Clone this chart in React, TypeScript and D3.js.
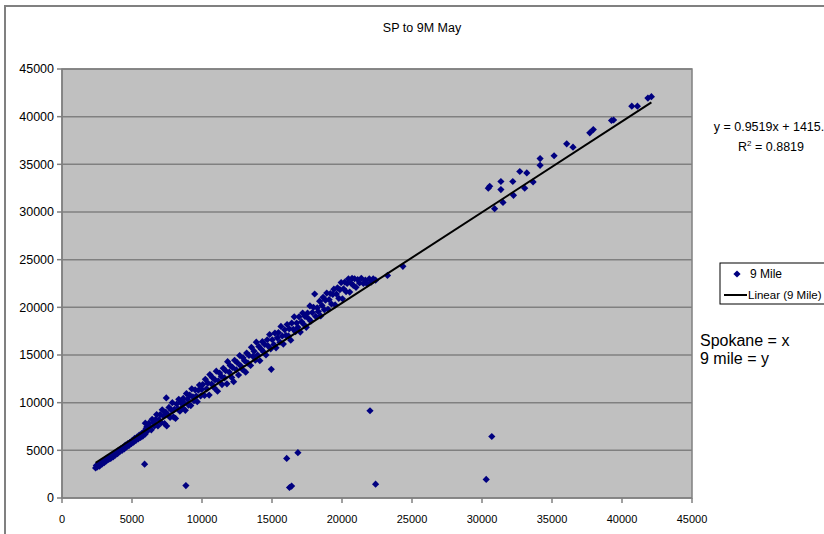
import React from "react";
import * as d3 from "d3";

const title = "SP to 9M May";
const xTicks = [0, 5000, 10000, 15000, 20000, 25000, 30000, 35000, 40000, 45000];
const yTicks = [0, 5000, 10000, 15000, 20000, 25000, 30000, 35000, 40000, 45000];
const slope = 0.9519;
const intercept = 1415;
const equationText = "y = 0.9519x + 1415.";
const r2Value = "0.8819";
const seriesName = "9 Mile";
const trendName = "Linear (9 Mile)";
const noteLines = ["Spokane = x", "9 mile = y"];

// Spokane (x) vs 9 Mile (y)
const low: [number, number][] = [
  [2400, 3150], [2450, 3400], [2520, 3250], [2600, 3550], [2680, 3350], [2760, 3700], [2850, 3550],
  [2930, 3850], [3010, 3700], [3080, 4050], [3170, 3900], [3240, 4200], [3330, 4050], [3410, 4350],
  [3480, 4150], [3560, 4500], [3650, 4300], [3720, 4650], [3800, 4500], [3880, 4800], [3960, 4650],
  [4040, 5000], [4120, 4850], [4200, 5150], [4290, 5000], [4370, 5300], [4450, 5150], [4530, 5550],
  [4610, 5350], [4700, 5700], [4780, 5500], [4860, 5850], [4950, 5700], [5030, 6050], [5110, 5850],
  [5190, 6250], [5280, 6050], [5360, 6400], [5440, 6200], [5520, 6600], [5610, 6350], [5690, 6750],
  [5770, 6500], [5850, 6950], [5930, 6700], [5950, 7850], [6000, 7250],
];
const midLow: [number, number][] = [
  [6050, 7450], [6120, 7050], [6210, 7850], [6290, 7500], [6380, 7150], [6440, 8250], [6530, 7900],
  [6610, 7550], [6700, 8250], [6760, 8750], [6850, 7550], [6930, 8200], [7010, 8750], [7090, 7900],
  [7160, 9250], [7240, 8600], [7330, 7800], [7410, 9000], [7480, 7550], [7560, 8750], [7640, 9500],
  [7720, 8450], [7800, 9250], [7880, 10000], [7960, 8500], [8030, 9300], [8110, 8350], [8190, 9850],
  [8270, 9350], [8340, 10350], [8420, 9100], [8500, 10000], [8580, 9500], [8660, 10450], [8730, 9950],
  [8810, 9200], [8890, 10950], [8970, 10350], [9040, 9750], [9120, 10800], [9200, 9700], [9270, 11450],
  [9350, 10600], [9430, 10200], [9510, 11350], [9590, 10700], [9660, 10100], [9740, 11300], [9820, 11850],
  [9900, 10700], [9980, 11400],
];
const mid: [number, number][] = [
  [10050, 11900], [10180, 10750], [10240, 12450], [10330, 11450], [10420, 12050], [10510, 10800],
  [10560, 12950], [10690, 11950], [10740, 12650], [10880, 11550], [10930, 12400], [11020, 13300],
  [11110, 11200], [11170, 12300], [11260, 13100], [11390, 12750], [11430, 11900], [11520, 13600],
  [11610, 12600], [11690, 13350], [11780, 11980], [11830, 14300], [11950, 13200], [12010, 13900],
  [12120, 12650], [12180, 13700], [12260, 12200], [12330, 14450], [12450, 13450], [12520, 14200],
  [12610, 12900], [12690, 14950], [12770, 13850], [12880, 13500], [12930, 14700], [13040, 14400],
  [13120, 13200], [13190, 15200], [13280, 14150], [13360, 14950], [13470, 13900], [13530, 15800],
  [13640, 14850], [13720, 15400], [13810, 14450], [13880, 16350], [13970, 15000], [14060, 15900],
  [14130, 14400], [14240, 15600], [14310, 16400], [14420, 15300], [14480, 16100], [14570, 15000],
  [14660, 16600], [14720, 15950], [14830, 17150], [14910, 15650], [14950, 13500],
];
const high: [number, number][] = [
  [15020, 16600], [15130, 16100], [15210, 17300], [15290, 15750], [15380, 16800], [15460, 17350],
  [15570, 16350], [15640, 18000], [15730, 17000], [15810, 16150], [15900, 17650], [15990, 17050],
  [16080, 18200], [16170, 17000], [16230, 17750], [16340, 16550], [16410, 18350], [16520, 17700],
  [16590, 19000], [16680, 17450], [16760, 18350], [16850, 17900], [16930, 19000], [17020, 17400],
  [17110, 18500], [17190, 19400], [17280, 18200], [17360, 19050], [17450, 17900], [17540, 19400],
  [17620, 18800], [17710, 20150], [17780, 18550], [17880, 19450], [17960, 20000], [18050, 21400],
  [18120, 19050], [18230, 19950], [18310, 19550], [18400, 20650], [18480, 19100], [18570, 20200],
  [18650, 21050], [18740, 19750], [18820, 20750], [18910, 21500], [19000, 19800], [19080, 20800],
  [19170, 21450], [19250, 20350], [19340, 21350], [19420, 21900], [19510, 20250], [19600, 21400],
  [19680, 22050], [19770, 20950], [19850, 21850], [19940, 22600], [20030, 20900], [20110, 21950],
  [20200, 22650], [20290, 21650], [20370, 22500], [20460, 23000], [20550, 21600], [20630, 22550],
  [20720, 23050], [20810, 22300], [20900, 23000], [21000, 22100], [21120, 22900], [21250, 22550],
  [21380, 23050], [21530, 22500], [21670, 22850], [21800, 22450], [21950, 23000], [22080, 22650],
  [22230, 23000], [22400, 22850], [23250, 23350], [24350, 24300],
];
const top: [number, number][] = [
  [30450, 32500], [30550, 32700], [30900, 30350], [31350, 33200], [31350, 32350], [31500, 31000],
  [32200, 33200], [32250, 31750], [32700, 34250], [33050, 32500], [33200, 34100], [33650, 33150],
  [34150, 35600], [34150, 34900], [35150, 35900], [36050, 37150], [36500, 36800], [37700, 38300],
  [37950, 38650], [39250, 39600], [39400, 39650], [40700, 41100], [41100, 41100], [41850, 41950],
  [42100, 42100],
];
const outliers: [number, number][] = [
  [5900, 3550], [8850, 1300], [16050, 4150], [16850, 4750], [16250, 1100], [16400, 1250],
  [22000, 9150], [22400, 1450], [30700, 6450], [30300, 1950], [7450, 10500],
];

const points = [...low, ...midLow, ...mid, ...high, ...top, ...outliers];

const W = 824;
const H = 534;
const plot = { left: 62, right: 692, top: 69, bottom: 498 };

export default function App() {
  const x = d3.scaleLinear().domain([0, 45000]).range([plot.left, plot.right]);
  const y = d3.scaleLinear().domain([0, 45000]).range([plot.bottom, plot.top]);
  const xMin = d3.min(points, (d) => d[0])!;
  const xMax = d3.max(points, (d) => d[0])!;
  const trend = d3.line<number>()
    .x((v) => x(v))
    .y((v) => y(slope * v + intercept));
  const diamond = "M0,-3.6L3.6,0L0,3.6L-3.6,0Z";
  const font = "'Liberation Sans', Arial, sans-serif";

  return (
    <svg width={W} height={H} style={{ position: "absolute", left: 0, top: 0, background: "#fff" }} fontFamily={font}>
      <rect x={5} y={6} width={W + 10} height={H + 10} fill="#fff" stroke="#808080" strokeWidth={2} />
      <text x={422} y={32} textAnchor="middle" fontSize={12.5} fill="#000">{title}</text>

      <rect x={plot.left} y={plot.top} width={plot.right - plot.left} height={plot.bottom - plot.top} fill="#c0c0c0" stroke="#808080" strokeWidth={1.5} />
      {yTicks.filter((t) => t > 0).map((t) => (
        <line key={"g" + t} x1={plot.left} x2={plot.right} y1={y(t)} y2={y(t)} stroke="#808080" strokeWidth={1.5} />
      ))}
      <line x1={plot.left} x2={plot.left} y1={plot.top} y2={plot.bottom} stroke="#808080" strokeWidth={1.5} />
      <line x1={plot.left} x2={plot.right} y1={plot.bottom} y2={plot.bottom} stroke="#808080" strokeWidth={1.5} />

      {yTicks.map((t) => (
        <g key={"y" + t}>
          <line x1={plot.left - 5} x2={plot.left} y1={y(t)} y2={y(t)} stroke="#808080" strokeWidth={1.5} />
          <text x={plot.left - 8} y={y(t)} dy="0.35em" textAnchor="end" fontSize={12.5} fill="#000">{t}</text>
        </g>
      ))}
      {xTicks.map((t) => (
        <g key={"x" + t}>
          <line x1={x(t)} x2={x(t)} y1={plot.bottom} y2={plot.bottom + 5} stroke="#808080" strokeWidth={1.5} />
          <text x={x(t)} y={523} textAnchor="middle" fontSize={11} fill="#000">{t}</text>
        </g>
      ))}

      {points.map((p, i) => (
        <path key={i} d={diamond} transform={`translate(${x(p[0])},${y(p[1])})`} fill="#000080" />
      ))}
      <path d={trend([xMin, xMax]) || ""} stroke="#000" strokeWidth={2} fill="none" />

      <text x={769} y={131} textAnchor="middle" fontSize={12.5} fill="#000">{equationText}</text>
      <text x={771} y={151} textAnchor="middle" fontSize={12.5} fill="#000">
        R<tspan dy={-5} fontSize={8}>2</tspan><tspan dy={5}> = {r2Value}</tspan>
      </text>

      <rect x={720} y={263} width={120} height={41} fill="#fff" stroke="#000" strokeWidth={1} />
      <path d={diamond} transform="translate(737,274)" fill="#000080" />
      <text x={750} y={278} fontSize={12} fill="#000">{seriesName}</text>
      <line x1={724} x2={747} y1={295} y2={295} stroke="#000" strokeWidth={2} />
      <text x={748} y={299} fontSize={11.5} fill="#000">{trendName}</text>

      {noteLines.map((s, i) => (
        <text key={s} x={700} y={346 + i * 18} fontSize={16} fill="#000">{s}</text>
      ))}
    </svg>
  );
}
